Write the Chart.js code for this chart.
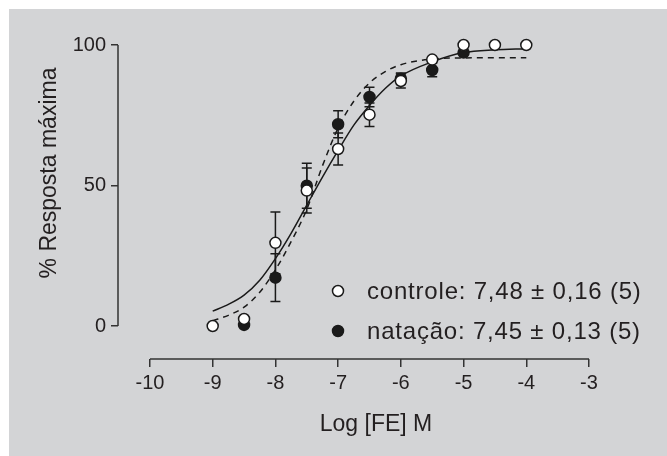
<!DOCTYPE html>
<html>
<head>
<meta charset="utf-8">
<script src="https://cdn.jsdelivr.net/npm/chart.js@4.4.1/dist/chart.umd.min.js"></script>
<style>
  html, body { margin: 0; padding: 0; background: #fff; }
  #wrap { width: 667px; height: 456px; position: relative; }
</style>
</head>
<body>
<div id="wrap"><canvas id="chart"></canvas></div>
<script>
// log dose (M) and % of max response
const controleDose = [-9, -8.5, -8, -7.5, -7, -6.5, -6, -5.5, -5, -4.5, -4];
const controleResp = [0, 2.5, 29.6, 48.2, 63, 75.2, 87.2, 94.8, 100, 100, 100];
const controleSem = [0, 0, 11, 8, 5.7, 4.2, 2.5, 0, 0, 0, 0];

const natacaoDose = [-8.5, -8, -7.5, -7, -6.5, -6, -5.5, -5];
const natacaoResp = [0.4, 17.2, 49.9, 71.8, 81.5, 88, 91.1, 97.3];
const natacaoSem = [0, 8.5, 8, 4.8, 3.5, 2, 2.4, 0];

// fitted curves
const curveDose = [-9, -8.75, -8.5, -8.25, -8, -7.75, -7.5, -7.25, -7, -6.75, -6.5, -6.25, -6, -5.5, -5, -4.5, -4];
const controleFit = [5.3, 7.7, 11, 16.3, 24, 33, 43, 53, 62.5, 71.5, 78.5, 84.5, 89, 94, 97.3, 98.3, 98.7];
const natacaoFit = [1.9, 3.8, 6.7, 12, 20, 30, 41.5, 57, 70.5, 80, 86.5, 90.5, 93, 95, 95.4, 95.5, 95.5];

const xTicks = [-10, -9, -8, -7, -6, -5, -4, -3];
const yTicks = [0, 50, 100];
const legendLabels = ["controle: 7,48 \u00b1 0,16 (5)", "nata\u00e7\u00e3o: 7,45 \u00b1 0,13 (5)"];
const xTitle = "Log [FE] M";
const yTitle = "% Resposta m\u00e1xima";

const INK = "#231f20";
const FONT = "'Liberation Sans', Arial, Helvetica, sans-serif";

const pts = (xs, ys) => xs.map((x, i) => ({ x, y: ys[i] }));

const bgPlugin = {
  id: "panelBg",
  beforeDraw(chart) {
    const { ctx, width, height } = chart;
    ctx.save();
    ctx.fillStyle = "#ffffff";
    ctx.fillRect(0, 0, width, height);
    ctx.fillStyle = "#d3d4d6";
    ctx.fillRect(9, 9, width - 9, height - 9);
    ctx.restore();
  }
};

// detached axis lines, prism style
const axisPlugin = {
  id: "axisLines",
  beforeDatasetsDraw(chart) {
    const { ctx, chartArea, scales } = chart;
    ctx.save();
    ctx.strokeStyle = "#333";
    ctx.lineWidth = 1.5;
    ctx.beginPath();
    ctx.moveTo(chartArea.left, scales.y.getPixelForValue(yTicks[0]));
    ctx.lineTo(chartArea.left, scales.y.getPixelForValue(yTicks[yTicks.length - 1]));
    ctx.moveTo(scales.x.getPixelForValue(xTicks[0]), chartArea.bottom);
    ctx.lineTo(scales.x.getPixelForValue(xTicks[xTicks.length - 1]), chartArea.bottom);
    ctx.stroke();

    ctx.fillStyle = INK;
    ctx.font = "23px " + FONT;
    ctx.textAlign = "center";
    ctx.textBaseline = "alphabetic";
    ctx.fillText(xTitle, 376, 431);
    ctx.translate(56, 173);
    ctx.rotate(-Math.PI / 2);
    ctx.fillText(yTitle, 0, 0);
    ctx.restore();
  }
};

const errorBarPlugin = {
  id: "errorBars",
  beforeDatasetsDraw(chart) {
    const { ctx, scales } = chart;
    const sets = [[controleDose, controleResp, controleSem], [natacaoDose, natacaoResp, natacaoSem]];
    ctx.save();
    ctx.strokeStyle = "#1a1a1a";
    ctx.lineWidth = 1.5;
    sets.forEach(([xs, ys, es]) => {
      xs.forEach((xv, i) => {
        if (!es[i]) return;
        const x = scales.x.getPixelForValue(xv);
        const y1 = scales.y.getPixelForValue(ys[i] + es[i]);
        const y2 = scales.y.getPixelForValue(ys[i] - es[i]);
        ctx.beginPath();
        ctx.moveTo(x, y1); ctx.lineTo(x, y2);
        ctx.moveTo(x - 5, y1); ctx.lineTo(x + 5, y1);
        ctx.moveTo(x - 5, y2); ctx.lineTo(x + 5, y2);
        ctx.stroke();
      });
    });
    ctx.restore();
  }
};

const legendPlugin = {
  id: "inlineLegend",
  afterDraw(chart) {
    const { ctx } = chart;
    ctx.save();
    ctx.font = "24px " + FONT;
    ctx.letterSpacing = "0.8px";
    ctx.textAlign = "left";
    ctx.textBaseline = "alphabetic";
    ctx.lineWidth = 1.5;
    ctx.strokeStyle = "#1a1a1a";
    [[291, "#ffffff", 299], [331, "#1a1a1a", 339]].forEach(([cy, fill, base], i) => {
      ctx.beginPath();
      ctx.arc(338, cy, 5.5, 0, Math.PI * 2);
      ctx.fillStyle = fill;
      ctx.fill();
      ctx.stroke();
      ctx.fillStyle = INK;
      ctx.fillText(legendLabels[i], 367, base);
    });
    ctx.restore();
  }
};

const tickFont = { family: FONT, size: 20 };

new Chart(document.getElementById("chart"), {
  type: "scatter",
  data: {
    datasets: [
      {
        label: "controle",
        data: pts(controleDose, controleResp),
        showLine: false,
        pointRadius: 5.5,
        pointBackgroundColor: "#ffffff",
        pointBorderColor: "#1a1a1a",
        pointBorderWidth: 1.5,
        clip: false,
        order: 0,
      },
      {
        label: "natação",
        data: pts(natacaoDose, natacaoResp),
        showLine: false,
        pointRadius: 5.5,
        pointBackgroundColor: "#1a1a1a",
        pointBorderColor: "#1a1a1a",
        pointBorderWidth: 1.5,
        clip: false,
        order: 1,
      },
      {
        label: "controle fit",
        data: pts(curveDose, controleFit),
        showLine: true,
        pointRadius: 0,
        borderColor: "#1a1a1a",
        borderWidth: 1.5,
        cubicInterpolationMode: "monotone",
        clip: false,
        order: 2,
      },
      {
        label: "natação fit",
        data: pts(curveDose, natacaoFit),
        showLine: true,
        pointRadius: 0,
        borderColor: "#1a1a1a",
        borderWidth: 1.5,
        borderDash: [6, 5],
        cubicInterpolationMode: "monotone",
        clip: false,
        order: 3,
      },
    ]
  },
  options: {
    responsive: true,
    maintainAspectRatio: false,
    animation: false,
    layout: { padding: { top: 45, right: 78, left: 0, bottom: 0 } },
    scales: {
      x: {
        type: "linear",
        min: -10.51,
        max: -3,
        afterBuildTicks: s => { s.ticks = xTicks.map(v => ({ value: v })); },
        afterFit: s => { s.height = 97; },
        ticks: { font: tickFont, color: INK, padding: 4, callback: v => String(v) },
        grid: { drawOnChartArea: false, drawTicks: true, tickLength: 8, color: "#333", lineWidth: 1.5 },
        border: { display: false },
      },
      y: {
        min: -11.74,
        max: 100,
        afterBuildTicks: s => { s.ticks = yTicks.map(v => ({ value: v })); },
        afterFit: s => { s.width = 118; },
        ticks: { font: tickFont, color: INK, padding: 5, callback: v => String(v) },
        grid: { drawOnChartArea: false, drawTicks: true, tickLength: 7, color: "#333", lineWidth: 1.5 },
        border: { display: false },
      }
    },
    plugins: {
      legend: { display: false },
      tooltip: { enabled: false },
    }
  },
  plugins: [bgPlugin, axisPlugin, errorBarPlugin, legendPlugin],
});
</script>
</body>
</html>
